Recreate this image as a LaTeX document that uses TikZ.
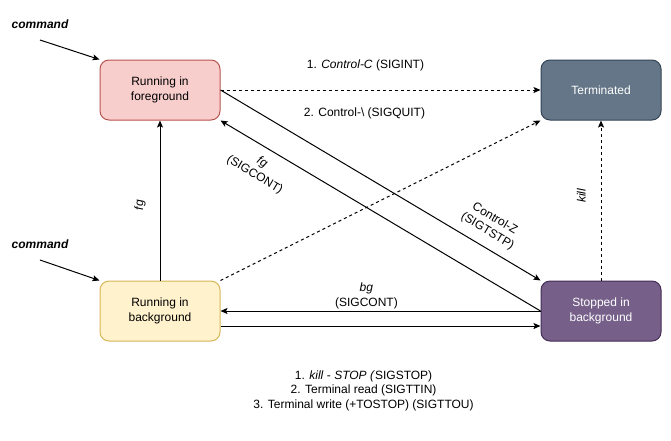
\documentclass[tikz,border=0pt]{standalone}
\usepackage{fontspec}
\setmainfont{Liberation Sans}
\usetikzlibrary{positioning,arrows.meta}
\definecolor{fgfill}{HTML}{F8CECC}
\definecolor{fgline}{HTML}{B85450}
\definecolor{bgfill}{HTML}{FFF2CC}
\definecolor{bgline}{HTML}{D6B656}
\definecolor{termfill}{HTML}{647687}
\definecolor{termline}{HTML}{314354}
\definecolor{stopfill}{HTML}{76608A}
\definecolor{stopline}{HTML}{432D57}
\newcommand\lbl{\fontsize{12}{14.4}\selectfont}

\begin{document}
\begin{tikzpicture}[x=1pt,y=-1pt,node distance=160pt and 320pt,
    state/.style={rectangle,rounded corners=9pt,minimum width=120pt,minimum height=60pt,
      align=center,line width=1pt,font=\lbl},
    arrow/.style={-{Stealth[length=7pt,width=6pt,inset=1.5pt]},line width=1pt,black},
    sigarrow/.style={arrow,dash pattern=on 3pt off 3pt},
    label/.style={font=\lbl,align=center,inner sep=2pt},
    cmdlabel/.style={font=\lbl\bfseries\itshape}
    ]
    \useasboundingbox (0,0) rectangle (671,440);

    \node[state,fill=fgfill,draw=fgline] (fg) at (160,90) {Running in\\foreground};
    \node[state,fill=termfill,draw=termline,text=white,right=of fg] (term) {Terminated};
    \node[state,fill=bgfill,draw=bgline,below=of fg] (bg) {Running in\\background};
    \node[state,fill=stopfill,draw=stopline,text=white,right=of bg] (stopped) {Stopped in\\background};

    \node[cmdlabel] (cmdfg) at (40,24) {command};
    \node[cmdlabel] (cmdbg) at (40,244) {command};
    \coordinate (cmdfgtail) at (40,40);
    \coordinate (cmdbgtail) at (40,260);

    \draw[arrow] (cmdfgtail) to (fg.north west);
    \draw[arrow] (cmdbgtail) to (bg.north west);

    \draw[sigarrow] (fg.east) to
      node[label,pos=0.453,above=17pt] (ctrlc) {1. \textit{Control-C} (SIGINT)}
      node[label,pos=0.45,below=15pt] (ctrlq) {2. Control-\textbackslash{} (SIGQUIT)} (term.west);
    \draw[sigarrow] (bg.north east) to (term.south west);
    \draw[sigarrow] (stopped.north) to
      node[label,pos=0.53,sloped,above=13pt] (kill) {\textit{kill}} (term.south);

    \draw[arrow] (bg.north) to
      node[label,pos=0.47,sloped,above=12pt] (fgcmd) {\textit{fg}} (fg.south);
    \draw[arrow] (fg.east) to
      node[label,pos=0.81,sloped,above=7pt] (ctrlz) {Control-Z\\(SIGTSTP)} (stopped.north west);
    \draw[arrow] (stopped.west) to
      node[label,pos=0.846,sloped,below=7pt] (fgcont) {\textit{fg}\\(SIGCONT)} (fg.south east);
    \draw[arrow] (stopped.west) to
      node[label,pos=0.544,above] (bgcont) {\textit{bg}\\(SIGCONT)} (bg.east);
    \draw[arrow] ([yshift=-15pt]bg.east) to
      node[label,pos=0.447,below=42pt] (stopsig) {1. \textit{kill} - \textit{STOP (}SIGSTOP)\\
        2. Terminal read (SIGTTIN)\\3. Terminal write (+TOSTOP) (SIGTTOU)} ([yshift=-15pt]stopped.west);

  \end{tikzpicture}
\end{document}
